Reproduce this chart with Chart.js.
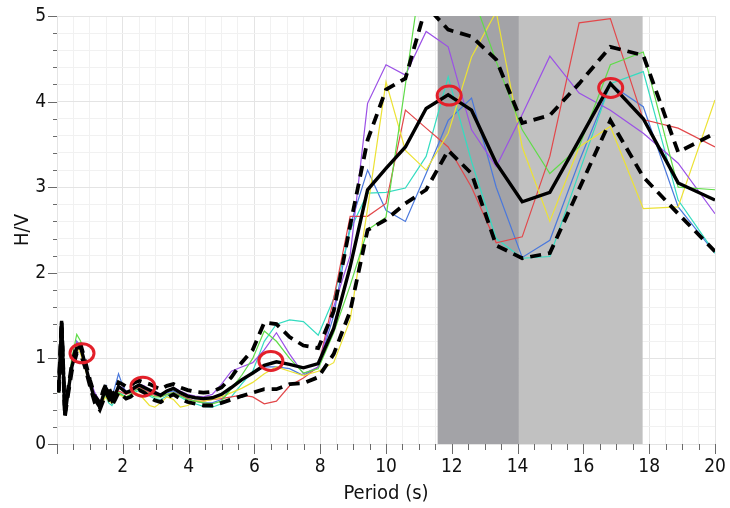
<!DOCTYPE html>
<html>
<head>
<meta charset="utf-8">
<script src="https://cdn.jsdelivr.net/npm/chart.js@4.4.1/dist/chart.umd.min.js"></script>
<style>
  html, body { margin: 0; padding: 0; background: #fff; }
  #wrap { width: 730px; height: 508px; }
</style>
</head>
<body>
<div id="wrap"><canvas id="hv"></canvas></div>
<script>
// periods (s) shared by every curve
const periods = [0.05, 0.14, 0.24, 0.33, 0.45, 0.6, 0.72, 0.85, 1.0, 1.15,
  1.3, 1.4, 1.49, 1.57, 1.67, 1.77, 1.87, 1.98, 2.1, 2.23,
  2.36, 2.5, 2.65, 2.81, 2.97, 3.15, 3.34, 3.54, 3.75, 3.97,
  4.2, 4.45, 4.72, 5.0, 5.3, 5.61, 5.95, 6.3, 6.67, 7.07,
  7.49, 7.94, 8.41, 8.91, 9.44, 10.0, 10.59, 11.22, 11.89, 12.6,
  13.35, 14.14, 14.98, 15.87, 16.82, 17.82, 18.88, 20.0];

const meanHV = [0.62, 1.44, 0.34, 0.59, 0.9, 1.12, 1.13, 0.94, 0.71, 0.52,
  0.43, 0.56, 0.65, 0.6, 0.51, 0.58, 0.67, 0.64, 0.6, 0.62,
  0.66, 0.69, 0.66, 0.63, 0.6, 0.57, 0.62, 0.65, 0.6, 0.56,
  0.54, 0.53, 0.54, 0.58, 0.66, 0.75, 0.83, 0.92, 0.96, 0.93,
  0.89, 0.94, 1.35, 2.07, 2.97, 3.22, 3.47, 3.92, 4.08, 3.9,
  3.28, 2.83, 2.94, 3.55, 4.21, 3.8, 3.05, 2.85];

const upperHV = [0.62, 1.44, 0.36, 0.62, 0.93, 1.16, 1.16, 0.98, 0.75, 0.56,
  0.48, 0.62, 0.7, 0.66, 0.57, 0.62, 0.72, 0.7, 0.67, 0.68,
  0.72, 0.74, 0.72, 0.7, 0.67, 0.64, 0.68, 0.7, 0.66, 0.63,
  0.61, 0.6, 0.61, 0.66, 0.78, 0.95, 1.1, 1.42, 1.4, 1.25,
  1.15, 1.12, 1.55, 2.55, 3.55, 4.14, 4.27, 5.12, 4.84, 4.76,
  4.49, 3.75, 3.84, 4.21, 4.64, 4.54, 3.41, 3.63];

const lowerHV = [0.6, 1.4, 0.32, 0.56, 0.85, 1.06, 1.05, 0.9, 0.68, 0.48,
  0.4, 0.5, 0.6, 0.54, 0.45, 0.52, 0.6, 0.57, 0.53, 0.55,
  0.59, 0.63, 0.6, 0.55, 0.51, 0.49, 0.54, 0.58, 0.53, 0.49,
  0.47, 0.45, 0.45, 0.48, 0.52, 0.56, 0.6, 0.64, 0.64, 0.7,
  0.71, 0.78, 1.05, 1.55, 2.5, 2.62, 2.81, 2.97, 3.43, 3.16,
  2.32, 2.17, 2.23, 2.98, 3.78, 3.12, 2.69, 2.25];

const greenHV = [0.6, 1.35, 0.4, 0.65, 1.0, 1.28, 1.2, 0.95, 0.72, 0.55,
  0.47, 0.52, 0.6, 0.55, 0.5, 0.55, 0.6, 0.57, 0.55, 0.58,
  0.62, 0.65, 0.62, 0.58, 0.55, 0.55, 0.58, 0.6, 0.56, 0.52,
  0.5, 0.48, 0.47, 0.5, 0.65, 0.8, 1.0, 1.32, 1.2, 1.0,
  0.83, 0.88, 1.3, 1.85, 2.5, 2.65, 4.2, 5.9, 5.8, 5.28,
  4.47, 3.67, 3.16, 3.47, 4.43, 4.58, 3.0, 2.97];

const purpleHV = [0.6, 1.3, 0.42, 0.65, 0.95, 1.2, 1.1, 0.95, 0.75, 0.6,
  0.5, 0.55, 0.65, 0.62, 0.55, 0.6, 0.68, 0.66, 0.62, 0.6,
  0.65, 0.7, 0.68, 0.64, 0.62, 0.58, 0.62, 0.66, 0.62, 0.58,
  0.56, 0.55, 0.58, 0.7, 0.85, 0.9, 0.95, 1.1, 1.3, 1.05,
  0.82, 0.9, 1.6, 2.2, 3.98, 4.43, 4.31, 4.82, 4.64, 3.67,
  3.24, 3.85, 4.53, 4.1, 3.9, 3.63, 3.28, 2.69];

const yellowHV = [0.6, 1.3, 0.4, 0.62, 0.9, 1.15, 1.05, 0.88, 0.7, 0.52,
  0.45, 0.5, 0.55, 0.5, 0.48, 0.52, 0.58, 0.56, 0.55, 0.57,
  0.6, 0.58, 0.52, 0.45, 0.43, 0.48, 0.55, 0.52, 0.43, 0.45,
  0.5, 0.5, 0.52, 0.55, 0.6, 0.65, 0.72, 0.82, 0.9, 0.85,
  0.8, 0.85, 0.95, 1.45, 2.75, 4.23, 3.43, 3.2, 3.63, 4.52,
  5.05, 3.47, 2.6, 3.47, 3.71, 2.75, 2.77, 4.02];

const redHV = [0.6, 1.3, 0.4, 0.62, 0.92, 1.15, 1.1, 0.92, 0.7, 0.55,
  0.48, 0.55, 0.62, 0.58, 0.52, 0.56, 0.62, 0.6, 0.58, 0.6,
  0.64, 0.66, 0.63, 0.6, 0.57, 0.55, 0.58, 0.6, 0.57, 0.53,
  0.5, 0.5, 0.52, 0.53, 0.55, 0.57, 0.55, 0.47, 0.5, 0.68,
  0.77, 0.9, 1.7, 2.66, 2.66, 2.81, 3.9, 3.69, 3.47, 3.0,
  2.35, 2.42, 3.36, 4.92, 4.97, 3.79, 3.69, 3.47];

const cyanHV = [0.6, 1.3, 0.38, 0.6, 0.95, 1.2, 1.15, 0.95, 0.7, 0.52,
  0.48, 0.55, 0.55, 0.48, 0.45, 0.52, 0.6, 0.58, 0.55, 0.57,
  0.6, 0.63, 0.6, 0.56, 0.53, 0.52, 0.56, 0.58, 0.55, 0.5,
  0.47, 0.44, 0.43, 0.47, 0.55, 0.7, 0.85, 1.2, 1.4, 1.45,
  1.43, 1.27, 1.7, 2.5, 2.93, 2.94, 2.99, 3.36, 4.29, 3.3,
  2.4, 2.17, 2.19, 3.17, 4.21, 4.35, 2.85, 2.23];

const blueHV = [0.6, 1.3, 0.38, 0.62, 0.9, 1.12, 1.1, 0.92, 0.7, 0.52,
  0.47, 0.58, 0.68, 0.6, 0.55, 0.68, 0.82, 0.7, 0.6, 0.6,
  0.63, 0.66, 0.64, 0.6, 0.58, 0.55, 0.6, 0.62, 0.57, 0.53,
  0.5, 0.48, 0.48, 0.52, 0.65, 0.75, 0.82, 0.9, 0.9, 0.88,
  0.8, 0.9, 1.5, 2.55, 3.2, 2.73, 2.6, 3.16, 3.78, 4.04,
  3.0, 2.18, 2.38, 3.3, 4.2, 3.94, 2.77, 2.23];

// picked peaks (red rings)
const peakPeriods = [0.76, 2.61, 6.5, 11.92, 16.83];
const peakHV = [1.06, 0.67, 0.97, 4.07, 4.16];

// shaded period windows: dark [0]-[1], light [1]-[2]
const bandEdges = [11.57, 14.04, 17.8];

const xTickLabels = [2, 4, 6, 8, 10, 12, 14, 16, 18, 20];
const yTickLabels = [0, 1, 2, 3, 4, 5];

const FONT = "'DejaVu Sans Condensed', 'DejaVu Sans', sans-serif";

function pts(arr) {
  return periods.map((p, i) => ({ x: p, y: arr[i] }));
}

function isNear(v, list) {
  return list.some((t) => Math.abs(t - v) < 1e-6);
}

function isWhole(v, step) {
  const r = v / step;
  return Math.abs(r - Math.round(r)) < 1e-6;
}

const bandsPlugin = {
  id: "bands",
  beforeDatasetsDraw(chart) {
    const { ctx, chartArea: a, scales: { x } } = chart;
    const x0 = x.getPixelForValue(bandEdges[0]);
    const x1 = x.getPixelForValue(bandEdges[1]);
    const x2 = x.getPixelForValue(bandEdges[2]);
    ctx.save();
    ctx.fillStyle = "#a3a3a7";
    ctx.fillRect(x0, a.top, x1 - x0, a.bottom - a.top);
    ctx.fillStyle = "#c1c1c1";
    ctx.fillRect(x1, a.top, x2 - x1, a.bottom - a.top);
    ctx.restore();
  },
};

const ticksPlugin = {
  id: "tickMarks",
  afterDraw(chart) {
    const { ctx, chartArea: a, scales: { x, y } } = chart;
    ctx.save();
    ctx.strokeStyle = "#6a6a6a";
    ctx.lineWidth = 1;
    x.ticks.forEach((t) => {
      const px = Math.round(x.getPixelForValue(t.value)) + 0.5;
      const len = isWhole(t.value, 2) ? 10 : 6;
      ctx.beginPath();
      ctx.moveTo(px, a.bottom);
      ctx.lineTo(px, a.bottom + len);
      ctx.stroke();
    });
    y.ticks.forEach((t) => {
      const py = Math.round(y.getPixelForValue(t.value)) + 0.5;
      const len = isWhole(t.value, 1) ? 9 : 4;
      ctx.beginPath();
      ctx.moveTo(a.left - len, py);
      ctx.lineTo(a.left, py);
      ctx.stroke();
    });
    ctx.restore();
  },
};

const ringsPlugin = {
  id: "rings",
  afterDatasetsDraw(chart) {
    const { ctx, scales: { x, y } } = chart;
    ctx.save();
    ctx.strokeStyle = "#e3202a";
    ctx.lineWidth = 3;
    peakPeriods.forEach((p, i) => {
      const cx = x.getPixelForValue(p);
      const cy = y.getPixelForValue(peakHV[i]);
      ctx.beginPath();
      ctx.ellipse(cx, cy, 12, 9.5, 0, 0, Math.PI * 2);
      ctx.stroke();
    });
    ctx.restore();
  },
};

function thin(label, data, color) {
  return { label, data: pts(data), borderColor: color, borderWidth: 1.2, order: 3 };
}

new Chart(document.getElementById("hv"), {
  type: "line",
  data: {
    datasets: [
      { label: "mean", data: pts(meanHV), borderColor: "#000", borderWidth: 3.4, order: 1 },
      { label: "upper", data: pts(upperHV), borderColor: "#000", borderWidth: 3.8, borderDash: [11, 7], order: 2 },
      { label: "lower", data: pts(lowerHV), borderColor: "#000", borderWidth: 3.8, borderDash: [11, 7], order: 2 },
      thin("green", greenHV, "#5fdc48"),
      thin("purple", purpleHV, "#9b50e6"),
      thin("yellow", yellowHV, "#ece234"),
      thin("red", redHV, "#e2474a"),
      thin("cyan", cyanHV, "#34dcc0"),
      thin("blue", blueHV, "#4a78dc"),
    ],
  },
  options: {
    responsive: true,
    maintainAspectRatio: false,
    animation: false,
    layout: { padding: { top: 16, right: 15, left: 0, bottom: 0 } },
    elements: {
      point: { radius: 0 },
      line: { tension: 0, capBezierPoints: false },
    },
    datasets: { line: { clip: 0 } },
    plugins: { legend: { display: false }, tooltip: { enabled: false } },
    scales: {
      x: {
        type: "linear",
        min: 0,
        max: 20,
        afterFit: (s) => {
          s.height = 64;
          s.paddingLeft = 0;
          s.paddingRight = 0;
        },
        border: { display: false },
        grid: {
          drawTicks: false,
          color: (c) => (isWhole(c.tick.value, 2) ? "#e4e4e4" : "#f1f1f1"),
        },
        ticks: {
          stepSize: 0.5,
          autoSkip: false,
          maxRotation: 0,
          padding: 12,
          color: "#111",
          font: { family: FONT, size: 19 },
          callback: (v) => (isNear(v, xTickLabels) ? String(Math.round(v)) : ""),
        },
        title: {
          display: true,
          text: "Period (s)",
          color: "#111",
          font: { family: FONT, size: 20 },
          padding: { top: 0, bottom: 2 },
        },
      },
      y: {
        min: 0,
        max: 5,
        afterFit: (s) => {
          s.width = 57;
          s.paddingTop = 0;
          s.paddingBottom = 0;
        },
        border: { display: false },
        grid: {
          drawTicks: false,
          color: (c) => (isWhole(c.tick.value, 1) ? "#e4e4e4" : "#f1f1f1"),
        },
        ticks: {
          stepSize: 0.2,
          autoSkip: false,
          padding: 11,
          color: "#111",
          font: { family: FONT, size: 19 },
          callback: (v) => (isNear(v, yTickLabels) ? String(Math.round(v)) : ""),
        },
        title: {
          display: true,
          text: "H/V",
          color: "#111",
          font: { family: FONT, size: 20 },
          padding: { top: 11, bottom: 0 },
        },
      },
    },
  },
  plugins: [bandsPlugin, ringsPlugin, ticksPlugin],
});
</script>
</body>
</html>
